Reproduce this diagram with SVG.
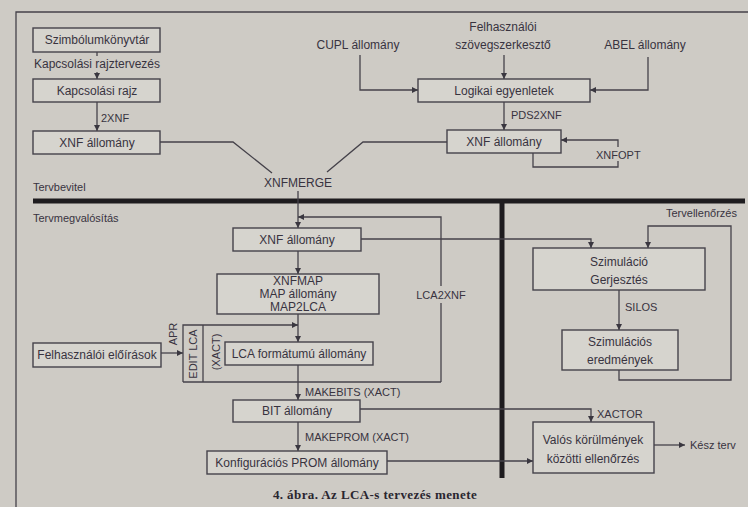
<svg xmlns="http://www.w3.org/2000/svg" width="748" height="507" viewBox="0 0 748 507">
<defs>
<marker id="ah" markerUnits="userSpaceOnUse" markerWidth="7" markerHeight="7" refX="6" refY="3" orient="auto">
<path d="M0,0 L6,3 L0,6 z" fill="#3a3740"/>
</marker>
<style>
.bx{fill:#d6d4ce;stroke:#45424a;stroke-width:1.4}
.t{font-family:"Liberation Sans",Arial,sans-serif;font-size:12px;fill:#38333f}
.c{text-anchor:middle}
.s{font-size:11px}
.ln{fill:none;stroke:#45424a;stroke-width:1.3}
.ar{marker-end:url(#ah)}
.thick{stroke:#1e1c1f;stroke-width:5;fill:none}
.cap{font-family:"Liberation Serif","Times New Roman",serif;font-size:13px;font-weight:bold;fill:#2a2630;text-anchor:middle;letter-spacing:0.4px}
</style>
</defs>
<rect x="0" y="0" width="748" height="507" fill="#cecbc5"/>
<path class="ln" d="M16,507 V12 H748" stroke-width="1.6"/>
<path class="thick" d="M33,201 H745"/>
<path class="thick" d="M502,201 V478"/>
<text class="t s" x="33" y="191">Tervbevitel</text>
<text class="t s" x="33" y="222">Tervmegvalósítás</text>
<text class="t s" x="666" y="217">Tervellenőrzés</text>

<g id="connectors">
<path class="ln" d="M97,52 V56"/>
<path class="ln ar" d="M97,72 V79"/>
<path class="ln ar" d="M97,102 V131"/>
<path class="ln" d="M160,142 H233 L272,173"/>
<path class="ln" d="M327,172 L363,142 H447"/>
<path class="ln ar" d="M298,191 V228"/>
<path class="ln ar" d="M360,55 V90 H418"/>
<path class="ln ar" d="M504,55 V79"/>
<path class="ln ar" d="M648,57 V90 H590"/>
<path class="ln ar" d="M504,102 V130"/>
<path class="ln ar" d="M618,147 V140 H561"/>
<path class="ln" d="M533,153 V167 H618 V161"/>
<path class="ln" d="M441,382 V303"/>
<path class="ln ar" d="M441,286 V217 H298"/>
<path class="ln ar" d="M361,239 H591 V248"/>
<path class="ln ar" d="M298,251 V274"/>
<path class="ln ar" d="M298,314 V342"/>
<path class="ln ar" d="M183,382 V325 H298"/>
<path class="ln" d="M183,382 H441"/>
<path class="ln" d="M203,325 V382"/>
<path class="ln ar" d="M161,353 H183"/>
<path class="ln ar" d="M298,365 V400"/>
<path class="ln ar" d="M360,409 H591 V422"/>
<path class="ln ar" d="M298,422 V451"/>
<path class="ln ar" d="M387,461 H533"/>
<path class="ln ar" d="M654,445 H685"/>
<path class="ln ar" d="M619,290 V330"/>
<path class="ln ar" d="M619,370 V380 H731 V226 H648 V248"/>
<text class="t s" x="101" y="122">2XNF</text>
<text class="t c" x="298" y="187">XNFMERGE</text>
<text class="t s" x="511" y="119">PDS2XNF</text>
<text class="t s" x="596" y="159">XNFOPT</text>
<text class="t s c" x="441" y="299">LCA2XNF</text>
<text class="t s" transform="translate(177,334) rotate(-90)" text-anchor="middle">APR</text>
<text class="t s" x="305" y="396">MAKEBITS (XACT)</text>
<text class="t s" x="305" y="441">MAKEPROM (XACT)</text>
<text class="t s" x="597" y="418">XACTOR</text>
<text class="t s" x="625" y="311">SILOS</text>
<text class="t s" x="690" y="449">Kész terv</text>
</g>

<g id="n-szimb"><rect class="bx" x="33" y="28" width="127" height="24"/><text class="t c" x="97" y="44">Szimbólumkönyvtár</text></g>
<g id="n-kapcsterv"><text class="t c" x="97" y="68">Kapcsolási rajztervezés</text></g>
<g id="n-kapcsrajz"><rect class="bx" x="33" y="79" width="127" height="23"/><text class="t c" x="97" y="95">Kapcsolási rajz</text></g>
<g id="n-xnf1"><rect class="bx" x="33" y="131" width="127" height="23"/><text class="t c" x="97" y="147">XNF állomány</text></g>
<g id="n-cupl"><text class="t c" x="358" y="49">CUPL állomány</text></g>
<g id="n-felh"><text class="t c" x="503" y="31">Felhasználói</text><text class="t c" x="503" y="49">szövegszerkesztő</text></g>
<g id="n-abel"><text class="t c" x="645" y="49">ABEL állomány</text></g>
<g id="n-logikai"><rect class="bx" x="418" y="79" width="172" height="23"/><text class="t c" x="504" y="95">Logikai egyenletek</text></g>
<g id="n-xnf2"><rect class="bx" x="447" y="130" width="114" height="23"/><text class="t c" x="504" y="146">XNF állomány</text></g>
<g id="n-xnf3"><rect class="bx" x="233" y="228" width="128" height="23"/><text class="t c" x="297" y="244">XNF állomány</text></g>
<g id="n-map"><rect class="bx" x="217" y="274" width="162" height="40"/><text class="t c" x="298" y="285">XNFMAP</text><text class="t c" x="298" y="298">MAP állomány</text><text class="t c" x="298" y="311">MAP2LCA</text></g>
<g id="n-editlca"><text class="t s" transform="translate(197,354) rotate(-90)" text-anchor="middle">EDIT LCA</text><text class="t s" transform="translate(220,352) rotate(-90)" text-anchor="middle">(XACT)</text></g>
<g id="n-eloiras"><rect class="bx" x="33" y="343" width="128" height="24"/><text class="t c" x="97" y="359">Felhasználói előírások</text></g>
<g id="n-lca"><rect class="bx" x="225" y="342" width="148" height="23"/><text class="t c" x="299" y="358">LCA formátumú állomány</text></g>
<g id="n-bit"><rect class="bx" x="233" y="400" width="127" height="22"/><text class="t c" x="297" y="415">BIT állomány</text></g>
<g id="n-konfig"><rect class="bx" x="207" y="451" width="180" height="23"/><text class="t c" x="297" y="467">Konfigurációs PROM állomány</text></g>
<g id="n-valos"><rect class="bx" x="533" y="422" width="121" height="51"/><text class="t c" x="593" y="444">Valós körülmények</text><text class="t c" x="593" y="463">közötti ellenőrzés</text></g>
<g id="n-szim"><rect class="bx" x="533" y="248" width="172" height="42"/><text class="t c" x="619" y="266">Szimuláció</text><text class="t c" x="619" y="284">Gerjesztés</text></g>
<g id="n-szimered"><rect class="bx" x="562" y="330" width="116" height="40"/><text class="t c" x="620" y="346">Szimulációs</text><text class="t c" x="620" y="364">eredmények</text></g>
<text class="cap" x="375" y="499">4. ábra. Az LCA-s tervezés menete</text>
</svg>
